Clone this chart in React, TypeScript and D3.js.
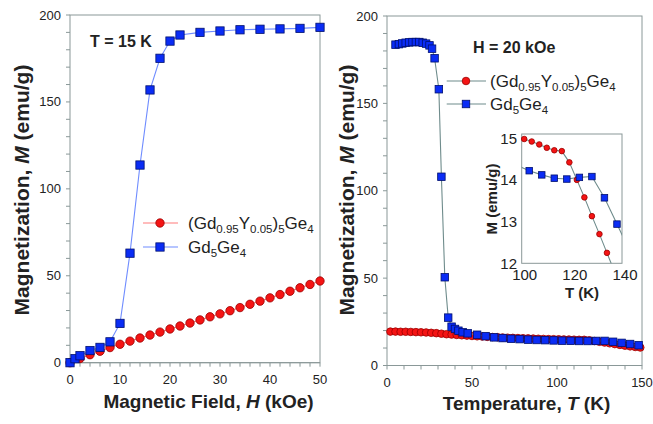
import React from "react";
import * as d3 from "d3";

// ---- data ----
const fieldRedH = [0, 2, 4, 6, 8, 10, 12, 14, 16, 18, 20, 22, 24, 26, 28, 30, 32, 34, 36, 38, 40, 42, 44, 46, 48, 50];
const fieldRedM = [0, 2.4, 4.6, 6.6, 8.7, 10.6, 12.4, 14.2, 15.9, 17.6, 19.4, 21.1, 22.8, 24.6, 26.4, 28.1, 29.9, 31.7, 33.6, 35.4, 37.3, 39.2, 41.1, 43.1, 45.0, 47.0];
const fieldBlueH = [0, 1, 2, 4, 6, 8, 10, 12, 14, 16, 18, 20, 22, 26, 30, 34, 38, 42, 46, 50];
const fieldBlueM = [0, 2.3, 4, 7, 8.8, 12, 22.6, 63, 113.7, 156.9, 175.1, 185, 188.5, 190, 190.8, 191.5, 191.8, 192, 192.3, 192.9];

const tempRedT = [2, 5, 8, 11, 14, 17, 20, 23, 26, 29, 32, 35, 38, 41, 44, 47, 50, 53, 56, 59, 62, 65, 68, 71, 74, 77, 80, 83, 86, 89, 92, 95, 98, 101, 104, 107, 110, 113, 116, 119, 122, 125, 128, 131, 134, 137, 140, 143, 146, 149];
const tempRedM = [19.4, 19.4, 19.3, 19.3, 19.2, 19.1, 19.0, 18.9, 18.7, 18.5, 18.2, 17.9, 17.7, 17.5, 17.3, 17.1, 16.9, 16.7, 16.6, 16.4, 16.3, 16.2, 16.0, 15.9, 15.8, 15.7, 15.6, 15.5, 15.4, 15.3, 15.2, 15.1, 15.05, 14.98, 14.92, 14.85, 14.77, 14.71, 14.69, 14.42, 14.0, 13.58, 13.13, 12.7, 12.25, 11.8, 11.35, 10.95, 10.6, 10.3];
const tempBlueT = [5, 7, 9, 11, 13, 15, 17, 19, 21, 23, 25, 26.5, 28, 30.5, 32, 34, 36, 38, 40, 42, 44.5, 47.5, 53, 58, 63, 68, 73, 78, 83, 88, 93, 98, 103, 108, 113, 118, 123, 128, 133, 138, 143, 148];
const tempBlueM = [183.6, 183.9, 184.3, 184.7, 184.9, 185.1, 185.1, 185.1, 184.7, 184.2, 183.2, 181.3, 175.8, 158.1, 108.0, 50.5, 27.4, 22.2, 20.9, 19.9, 19.0, 18.4, 17.6, 16.8, 16.1, 15.7, 15.3, 15.1, 14.8, 14.6, 14.5, 14.35, 14.22, 14.12, 14.04, 14.02, 14.06, 14.08, 13.57, 12.94, 12.3, 11.6];

const mTicks = [0, 50, 100, 150, 200];
const fieldTicks = [0, 10, 20, 30, 40, 50];
const tempTicks = [0, 50, 100, 150];
const insetTTicks = [100, 120, 140];
const insetMTicks = [12, 13, 14, 15];

const redName: [string, boolean][] = [["(Gd", false], ["0.95", true], ["Y", false], ["0.05", true], [")", false], ["5", true], ["Ge", false], ["4", true]];
const blueName: [string, boolean][] = [["Gd", false], ["5", true], ["Ge", false], ["4", true]];

const FONT = "'Liberation Sans', Arial, sans-serif";
const TXT = "#222";
const AXIS = "#8a9898";
const RED = "#f41414";
const RED_S = "#9a0000";
const BLUE = "#0a2cf5";
const BLUE_S = "#00106e";

const zip = (a: number[], b: number[]) => a.map((v, i) => [v, b[i]] as [number, number]);

function Name({ x, y, parts }: { x: number; y: number; parts: [string, boolean][] }) {
  let prevSub = false;
  return (
    <text x={x} y={y} fontFamily={FONT} fontSize={17} fill={TXT}>
      {parts.map(([t, sub], i) => {
        const dy = sub && !prevSub ? 4 : !sub && prevSub ? -4 : 0;
        prevSub = sub;
        return (
          <tspan key={i} dy={dy} fontSize={sub ? 11.5 : 17}>
            {t}
          </tspan>
        );
      })}
    </text>
  );
}

function Square({ x, y, s }: { x: number; y: number; s: number }) {
  return <rect x={x - s / 2} y={y - s / 2} width={s} height={s} fill={BLUE} stroke={BLUE_S} strokeWidth={0.8} />;
}
function Dot({ x, y, r }: { x: number; y: number; r: number }) {
  return <circle cx={x} cy={y} r={r} fill={RED} stroke={RED_S} strokeWidth={0.8} />;
}

function Frame({ x, y }: { x: d3.ScaleLinear<number, number>; y: d3.ScaleLinear<number, number> }) {
  const [x0, x1] = x.range();
  const [y0, y1] = y.range();
  return <rect x={x0} y={y1} width={x1 - x0} height={y0 - y1} fill="none" stroke={AXIS} strokeWidth={1} />;
}

function Axes({
  x, y, xTicks, xMinor, yMinor,
}: {
  x: d3.ScaleLinear<number, number>; y: d3.ScaleLinear<number, number>;
  xTicks: number[]; xMinor: number; yMinor: number;
}) {
  const [x0, x1] = x.range();
  const [y0] = y.range();
  const xm = d3.range(x.domain()[0], x.domain()[1] + 0.001, xMinor);
  const ym = d3.range(y.domain()[0], y.domain()[1] + 0.001, yMinor);
  return (
    <g>
      {xm.map((v) => (
        <line key={"xm" + v} x1={x(v)} x2={x(v)} y1={y0} y2={y0 + 4} stroke={AXIS} />
      ))}
      {ym.map((v) => (
        <line key={"ym" + v} x1={x0 - 4} x2={x0} y1={y(v)} y2={y(v)} stroke={AXIS} />
      ))}
      {xTicks.map((v) => (
        <text key={"xt" + v} x={x(v)} y={y0 + 21} textAnchor="middle" fontFamily={FONT} fontSize={13} fill={TXT}>
          {v}
        </text>
      ))}
      {mTicks.map((v) => (
        <text key={"yt" + v} x={x0 - 9} y={y(v) + 4.5} textAnchor="end" fontFamily={FONT} fontSize={13} fill={TXT}>
          {v}
        </text>
      ))}
      <Frame x={x} y={y} />
      <line x1={x0} x2={x1} y1={y0} y2={y0} stroke={AXIS} />
    </g>
  );
}

function YTitle({ cx, cy }: { cx: number; cy: number }) {
  return (
    <text transform={`translate(${cx},${cy}) rotate(-90)`} textAnchor="middle" fontFamily={FONT} fontSize={21} fontWeight="bold" fill={TXT}>
      Magnetization, <tspan fontStyle="italic">M</tspan> (emu/g)
    </text>
  );
}

export default function App() {
  // left panel: field sweep
  const xL = d3.scaleLinear().domain([0, 50]).range([70, 320]);
  const yL = d3.scaleLinear().domain([0, 200]).range([362.7, 15]);
  // right panel: temperature sweep
  const xR = d3.scaleLinear().domain([0, 150]).range([387, 642]);
  const yR = d3.scaleLinear().domain([0, 200]).range([365.5, 16]);
  // inset
  const xI = d3.scaleLinear().domain([100, 140]).range([521.7, 622]);
  const yI = d3.scaleLinear().domain([12, 15.1]).range([263.3, 134]);

  const lineL = d3.line<[number, number]>().x((d) => xL(d[0])).y((d) => yL(d[1]));
  const lineR = d3.line<[number, number]>().x((d) => xR(d[0])).y((d) => yR(d[1]));
  const lineI = d3.line<[number, number]>().x((d) => xI(d[0])).y((d) => yI(d[1]));

  const fRed = zip(fieldRedH, fieldRedM);
  const fBlue = zip(fieldBlueH, fieldBlueM);
  const tRed = zip(tempRedT, tempRedM);
  const tBlue = zip(tempBlueT, tempBlueM);
  const inI = (d: [number, number]) => d[0] >= 100 && d[0] <= 140 && d[1] >= 12 && d[1] <= 15.1;
  const GRAYLINE = "#6f8c8c";

  return (
    <svg width={653} height={424} style={{ position: "absolute", left: 0, top: 0, background: "#fff" }}>
      <defs>
        <clipPath id="insetClip">
          <rect x={521.7} y={134} width={622 - 521.7} height={263.3 - 134} />
        </clipPath>
      </defs>

      {/* left panel */}
      <Axes x={xL} y={yL} xTicks={fieldTicks} xMinor={2} yMinor={10} />
      <path d={lineL(fRed) || ""} fill="none" stroke="#ff7a7a" strokeWidth={1.1} />
      {fRed.map((d, i) => <Dot key={"fr" + i} x={xL(d[0])} y={yL(d[1])} r={4.2} />)}
      <path d={lineL(fBlue) || ""} fill="none" stroke="#6f8cff" strokeWidth={1.1} />
      {fBlue.map((d, i) => <Square key={"fb" + i} x={xL(d[0])} y={yL(d[1])} s={8.3} />)}
      <text x={90} y={47} fontFamily={FONT} fontSize={16} fontWeight="bold" fill={TXT}>T = 15 K</text>
      <line x1={143} x2={178} y1={223} y2={223} stroke="#ff7a7a" strokeWidth={1.1} />
      <Dot x={160} y={223} r={4.2} />
      <Name x={188} y={229} parts={redName} />
      <line x1={143} x2={178} y1={247} y2={247} stroke="#6f8cff" strokeWidth={1.1} />
      <Square x={160} y={247} s={8.3} />
      <Name x={188} y={253} parts={blueName} />
      <YTitle cx={29} cy={190} />
      <text x={208.5} y={408} textAnchor="middle" fontFamily={FONT} fontSize={19} fontWeight="bold" fill={TXT}>
        Magnetic Field, <tspan fontStyle="italic">H</tspan> (kOe)
      </text>

      {/* right panel */}
      <Axes x={xR} y={yR} xTicks={tempTicks} xMinor={10} yMinor={10} />
      <path d={lineR(tRed) || ""} fill="none" stroke={GRAYLINE} strokeWidth={1.1} />
      {tRed.map((d, i) => <Dot key={"tr" + i} x={xR(d[0])} y={yR(d[1])} r={3.8} />)}
      <path d={lineR(tBlue) || ""} fill="none" stroke={GRAYLINE} strokeWidth={1.1} />
      {tBlue.map((d, i) => <Square key={"tb" + i} x={xR(d[0])} y={yR(d[1])} s={7.5} />)}
      <text x={473} y={53} fontFamily={FONT} fontSize={16} fontWeight="bold" fill={TXT}>H = 20 kOe</text>
      <line x1={446.7} x2={486} y1={81} y2={81} stroke={GRAYLINE} strokeWidth={1.1} />
      <Dot x={466} y={81} r={3.8} />
      <Name x={490} y={87} parts={redName} />
      <line x1={446.7} x2={486} y1={104} y2={104} stroke={GRAYLINE} strokeWidth={1.1} />
      <Square x={466} y={104} s={7.5} />
      <Name x={490} y={110} parts={blueName} />
      <YTitle cx={354} cy={190} />
      <text x={526.5} y={410} textAnchor="middle" fontFamily={FONT} fontSize={19} fontWeight="bold" fill={TXT}>
        Temperature, <tspan fontStyle="italic">T</tspan> (K)
      </text>

      {/* inset */}
      <rect x={521.7} y={134} width={622 - 521.7} height={263.3 - 134} fill="#fff" stroke={AXIS} />
      <g clipPath="url(#insetClip)">
        <path d={lineI(tRed) || ""} fill="none" stroke={GRAYLINE} strokeWidth={1.1} />
        <path d={lineI(tBlue) || ""} fill="none" stroke={GRAYLINE} strokeWidth={1.1} />
      </g>
      {tRed.filter(inI).map((d, i) => <Dot key={"ir" + i} x={xI(d[0])} y={yI(d[1])} r={2.8} />)}
      {tBlue.filter(inI).map((d, i) => <Square key={"ib" + i} x={xI(d[0])} y={yI(d[1])} s={6.5} />)}
      {insetMTicks.map((v) => (
        <text key={"im" + v} x={517} y={yI(v) + 5.5} textAnchor="end" fontFamily={FONT} fontSize={15} fill={TXT}>{v}</text>
      ))}
      {insetTTicks.map((v) => (
        <text key={"it" + v} x={xI(v) + 3} y={280} textAnchor="middle" fontFamily={FONT} fontSize={15} fill={TXT}>{v}</text>
      ))}
      <text x={582} y={298} textAnchor="middle" fontFamily={FONT} fontSize={15} fontWeight="bold" fill={TXT}>T (K)</text>
      <text transform={`translate(497,199) rotate(-90)`} textAnchor="middle" fontFamily={FONT} fontSize={15} fontWeight="bold" fill={TXT}>M (emu/g)</text>
    </svg>
  );
}
